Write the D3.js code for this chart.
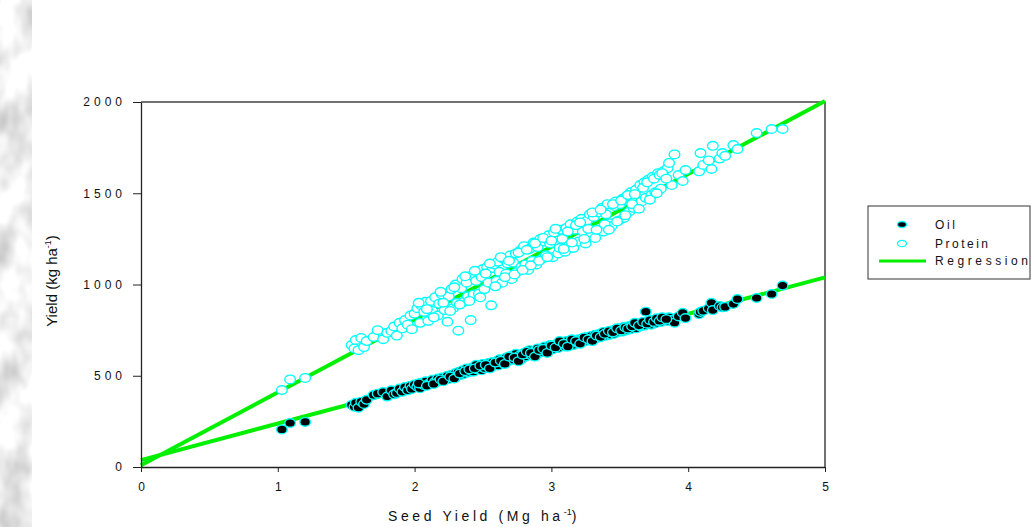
<!DOCTYPE html>
<html>
<head>
<meta charset="utf-8">
<script src="https://cdn.jsdelivr.net/npm/d3@7"></script>
<style>
  html, body { margin: 0; padding: 0; background: #fff; }
  svg { display: block; font-family: "Liberation Sans", Arial, sans-serif; }
</style>
</head>
<body>
<svg id="chart" width="1031" height="527"></svg>
<script>
// ---------- data ----------
const seedYield = [
  1.03,1.09,1.20,1.54,1.56,1.57,1.59,1.61,1.63,1.65,1.70,1.73,1.77,1.80,1.83,1.85,1.87,1.89,1.91,1.93,
  1.95,1.97,1.98,2.00,2.02,2.04,2.05,2.07,2.08,2.10,2.12,2.13,2.15,2.17,2.18,2.20,2.22,2.24,2.25,2.27,
  2.28,2.30,2.31,2.32,2.34,2.35,2.36,2.38,2.39,2.41,2.42,2.43,2.45,2.46,2.47,2.49,2.50,2.51,2.53,2.54,
  2.56,2.57,2.58,2.60,2.61,2.62,2.64,2.65,2.67,2.68,2.70,2.71,2.72,2.74,2.75,2.77,2.78,2.80,2.81,2.83,
  2.84,2.86,2.87,2.89,2.90,2.92,2.93,2.95,2.96,2.98,2.99,3.01,3.02,3.04,3.05,3.07,3.08,3.10,3.11,3.13,
  3.14,3.16,3.17,3.19,3.20,3.22,3.23,3.25,3.26,3.28,3.29,3.31,3.32,3.34,3.35,3.37,3.38,3.40,3.41,3.43,
  3.44,3.46,3.47,3.49,3.50,3.52,3.53,3.55,3.57,3.58,3.60,3.62,3.63,3.65,3.66,3.68,3.69,3.71,3.73,3.74,
  3.76,3.78,3.80,3.82,3.85,3.86,3.88,3.90,3.93,3.96,3.98,4.08,4.09,4.11,4.15,4.17,4.18,4.23,4.25,4.27,
  4.33,4.36,4.50,4.61,4.69,
  2.03,2.09,2.14,2.19,2.21,2.26,2.29,2.33,2.37,2.40,2.44,2.48,2.52,2.55,2.59,2.63,2.66,2.69,2.73,2.76,
  2.79,2.82,2.85,2.88,2.91,2.94,2.97,3.00,3.03,3.06,3.09,3.12,3.15,3.18,3.21,3.24,3.27,3.30,3.33,3.36,
  3.39,3.42,3.45,3.48,3.51,3.54,3.56,3.59,3.61,3.64,3.67,3.70,3.72,3.75,3.77,3.79,3.81,3.84
];
const oilYield = [
  206,241,247,340,330,352,325,358,345,368,394,402,411,386,420,398,405,430,412,438,
  420,445,428,452,440,432,462,448,470,455,462,478,468,485,472,490,478,500,482,505,
  490,515,498,520,505,530,510,540,518,528,545,522,560,535,548,530,565,542,555,570,
  548,575,560,580,556,590,570,585,600,578,595,610,588,620,598,612,590,625,605,618,
  640,610,632,620,650,628,640,660,635,650,668,645,660,675,652,668,680,660,690,672,
  685,668,695,680,700,685,705,690,712,695,718,700,725,708,730,715,740,720,735,725,
  748,730,755,740,760,742,768,750,772,755,778,760,785,770,790,775,851,795,780,800,
  788,808,795,812,800,820,805,791,825,845,816,838,850,856,870,900,860,882,875,877,
  893,920,926,948,994,
  458,445,455,480,470,495,485,512,525,535,540,555,560,540,572,582,565,605,600,580,
  615,632,625,605,640,648,625,665,655,690,675,660,700,690,675,710,700,690,720,712,
  730,745,738,760,748,765,758,770,790,775,795,785,805,795,815,800,820,810
];
const proteinYield = [
  422,480,488,668,650,696,640,707,657,690,712,750,700,735,745,770,720,790,760,805,
  780,830,755,840,870,790,885,850,905,800,910,855,930,830,895,945,860,796,935,975,
  870,1000,900,747,980,1030,905,1010,935,805,1050,945,1020,1070,950,1040,1085,975,1095,1010,
  886,1090,1110,1020,1125,1070,1010,1140,1060,1115,1160,1030,1120,1170,1070,1185,1095,1210,1110,1080,
  1195,1130,1230,1110,1205,1250,1140,1235,1160,1270,1225,1150,1285,1240,1170,1300,1250,1180,1310,1215,
  1330,1200,1300,1345,1235,1360,1290,1225,1350,1385,1270,1370,1255,1395,1300,1420,1290,1385,1440,1335,
  1320,1430,1455,1350,1440,1470,1365,1485,1400,1505,1420,1520,1430,1545,1455,1560,1475,1575,1490,1590,
  1505,1610,1525,1620,1638,1666,1545,1713,1600,1567,1627,1620,1720,1655,1680,1633,1760,1690,1720,1705,
  1764,1742,1830,1852,1852,
  900,865,820,960,900,855,985,890,1045,910,1075,930,1060,1115,990,1150,1040,1130,1055,1175,
  1080,1190,1105,1225,1130,1255,1150,1240,1305,1200,1195,1290,1230,1325,1340,1250,1305,1395,1300,1410,
  1330,1300,1440,1345,1460,1380,1490,1440,1495,1415,1530,1560,1465,1580,1500,1600,1610,1580
];
// regression lines: [seed yield, yield] end points
const oilRegression = [[0, 38], [5, 1039]];
const proteinRegression = [[0, 10], [5, 2005]];
const xTicks = [0, 1, 2, 3, 4, 5];
const yTicks = [0, 500, 1000, 1500, 2000];
const legendLabels = ["Oil", "Protein", "Regression"];

// ---------- drawing ----------
const svg = d3.select("#chart");
const x = d3.scaleLinear().domain([0, 5]).range([141, 825]);
const y = d3.scaleLinear().domain([0, 2000]).range([467, 102]);

// textured strip on the left
const defs = svg.append("defs");
const f = defs.append("filter").attr("id", "marble").attr("x", 0).attr("y", 0).attr("width", 1).attr("height", 1);
f.append("feTurbulence").attr("type", "fractalNoise").attr("baseFrequency", "0.035 0.022").attr("numOctaves", 3).attr("seed", 11).attr("result", "n");
f.append("feColorMatrix").attr("in", "n").attr("type", "matrix")
  .attr("values", "0.9 0 0 0 0.42  0.9 0 0 0 0.42  0.9 0 0 0 0.42  0 0 0 0 1");
svg.append("rect").attr("x", 0).attr("y", 0).attr("width", 32).attr("height", 527)
  .attr("fill", "#ddd").attr("filter", "url(#marble)");

// plot frame (top & right)
svg.append("path")
  .attr("d", `M${x(0)},${y(2000)}H${x(5)}V${y(0)}`)
  .attr("fill", "none").attr("stroke", "#444").attr("stroke-width", 1.5);

// regression lines
const line = d3.line().x(d => x(d[0])).y(d => y(d[1]));
svg.append("g").selectAll("path").data([oilRegression, proteinRegression]).join("path")
  .attr("d", line).attr("fill", "none").attr("stroke", "#00f000").attr("stroke-width", 4);

const samples = seedYield.map((s, i) => ({ s, oil: oilYield[i], pro: proteinYield[i] }));

// protein (open cyan)
svg.append("g").selectAll("ellipse").data(samples).join("ellipse")
  .attr("cx", d => x(d.s)).attr("cy", d => y(d.pro))
  .attr("rx", 5.3).attr("ry", 4.3)
  .attr("fill", "#fff").attr("stroke", "#00ffff").attr("stroke-width", 1.4);

// oil (black, cyan edge)
svg.append("g").selectAll("ellipse").data(samples).join("ellipse")
  .attr("cx", d => x(d.s)).attr("cy", d => y(d.oil))
  .attr("rx", 5.3).attr("ry", 4.3)
  .attr("fill", "#000").attr("stroke", "#00ffff").attr("stroke-width", 1.4);

// axes
const xAxis = svg.append("g").attr("transform", `translate(0,${y(0)})`)
  .call(d3.axisBottom(x).tickValues(xTicks).tickSize(5).tickSizeOuter(0).tickPadding(10).tickFormat(d3.format("d")));
const yAxis = svg.append("g").attr("transform", `translate(${x(0)},0)`)
  .call(d3.axisLeft(y).tickValues(yTicks).tickSize(8).tickSizeOuter(0).tickPadding(7).tickFormat(d3.format("d")));
[xAxis, yAxis].forEach(g => {
  g.select(".domain").attr("stroke", "#222").attr("stroke-width", 1.3);
  g.selectAll(".tick line").attr("stroke", "#222");
  g.selectAll(".tick text").attr("fill", "#111").style("font-family", '"Liberation Sans", Arial, sans-serif')
    .style("font-size", "12px");
});
yAxis.selectAll(".tick text").style("letter-spacing", "4px");

// axis titles
const xt = svg.append("text").attr("x", 484).attr("y", 521).attr("text-anchor", "middle")
  .style("font-size", "14px").style("letter-spacing", "3.6px").attr("fill", "#111");
xt.append("tspan").text("Seed Yield (Mg ha");
xt.append("tspan").attr("dy", -6).style("font-size", "9px").style("letter-spacing", "0px").text("-1");
xt.append("tspan").attr("dy", 6).text(")");

const yt = svg.append("text").attr("transform", "translate(57,281) rotate(-90)").attr("text-anchor", "middle")
  .style("font-size", "15px").attr("fill", "#111");
yt.append("tspan").text("Yield (kg ha");
yt.append("tspan").attr("dy", -6).style("font-size", "9px").text("-1");
yt.append("tspan").attr("dy", 6).text(")");

// legend
const lg = svg.append("g");
lg.append("rect").attr("x", 868).attr("y", 206).attr("width", 162).attr("height", 73)
  .attr("fill", "#fff").attr("stroke", "#333").attr("stroke-width", 1);
const rowY = [224.5, 243.5, 261];
lg.append("ellipse").attr("cx", 902).attr("cy", rowY[0]).attr("rx", 4.5).attr("ry", 3)
  .attr("fill", "#000").attr("stroke", "#00ffff").attr("stroke-width", 1.3);
lg.append("ellipse").attr("cx", 902).attr("cy", rowY[1]).attr("rx", 4.5).attr("ry", 3.2)
  .attr("fill", "#fff").attr("stroke", "#00ffff").attr("stroke-width", 1.3);
lg.append("line").attr("x1", 879).attr("x2", 926).attr("y1", rowY[2]).attr("y2", rowY[2])
  .attr("stroke", "#00f000").attr("stroke-width", 3);
const lens = [20, 53, 93];
lg.selectAll("text.lab").data(legendLabels).join("text").attr("class", "lab")
  .attr("x", 935).attr("y", (d, i) => rowY[i] + 4)
  .attr("textLength", (d, i) => lens[i]).attr("lengthAdjust", "spacing")
  .style("font-size", "12px").attr("fill", "#111").text(d => d);
</script>
</body>
</html>
